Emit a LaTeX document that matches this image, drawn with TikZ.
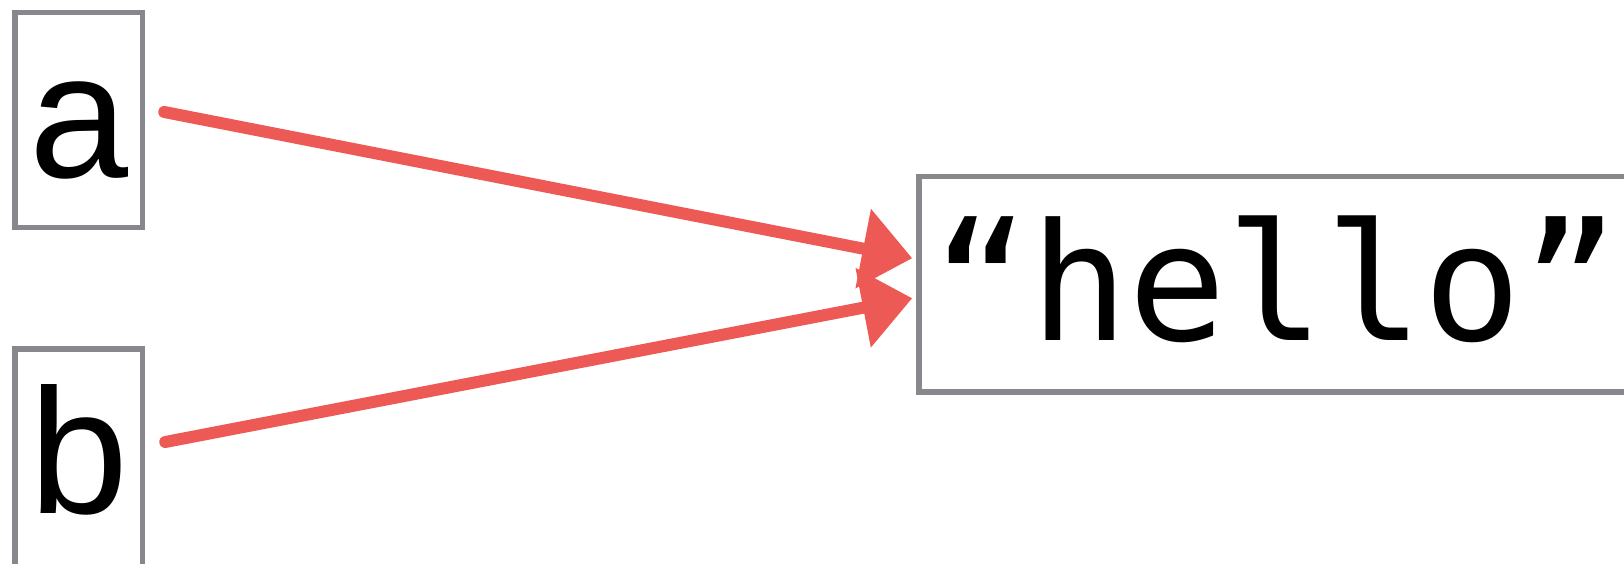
\documentclass[tikz,border=0pt]{standalone}
\usepackage{fontspec}
\setmainfont{Liberation Sans}
\newfontfamily\hellomono{DejaVu Sans Mono}
\usetikzlibrary{arrows.meta}
\definecolor{boxgray}{RGB}{134,136,140}
\definecolor{crayon}{RGB}{237,90,86}
\begin{document}
\begin{tikzpicture}[x=1pt,y=-1pt,
  varbox/.style={draw=boxgray, line width=5.5pt, inner sep=0pt, rectangle},
  ptr/.style={draw=crayon, line width=12pt, line cap=round, -{Triangle[length=50pt,width=78pt]}}]
\useasboundingbox (0,0) rectangle (1624,564);
\node[varbox, minimum width=127.5pt, minimum height=215pt, text height=165.5pt, text depth=49.5pt,
      font=\fontsize{178}{178}\selectfont] (a) at (78.75,120) {a};
\node[varbox, minimum width=127.5pt, minimum height=230pt, text height=164pt, text depth=66pt,
      font=\fontsize{178}{178}\selectfont] (b) at (78.75,464) {b};
\node[varbox, minimum width=714pt, minimum height=215.5pt, text height=163.5pt, text depth=52pt,
      font=\hellomono\fontsize{163}{163}\selectfont] (hello) at (1276,284.25) {“hello”};
\draw[ptr] ([shift={(19,-8)}]a.east) -- ([shift={(-4,-26)}]hello.west);
\draw[ptr] ([shift={(20,-22)}]b.east) -- ([shift={(-4,14)}]hello.west);
\end{tikzpicture}
\end{document}
